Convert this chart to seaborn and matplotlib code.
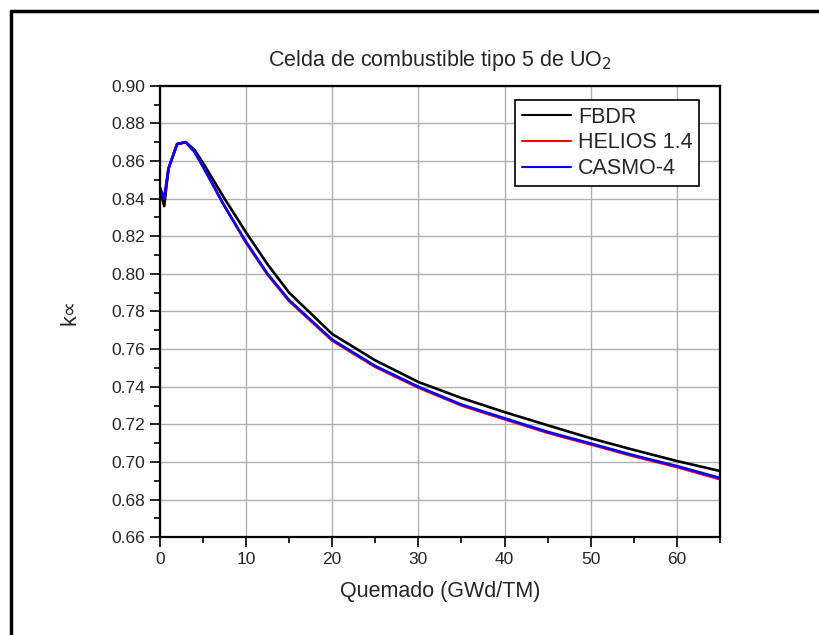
import pandas as pd
import matplotlib
matplotlib.use("Agg")
import matplotlib.pyplot as plt
import seaborn as sns
from matplotlib.ticker import MultipleLocator
from matplotlib.lines import Line2D

# Burnup steps (GWd/TM)
burnup = [0, 0.5, 1, 2, 3, 4, 5, 7.5, 10, 12.5, 15, 20, 25, 30, 35, 40, 45, 50, 55, 60, 65]

# k-infinity values
k_fbdr = [0.845, 0.836, 0.856, 0.869, 0.870, 0.866, 0.859, 0.840, 0.822, 0.805, 0.790,
          0.768, 0.754, 0.7425, 0.734, 0.7265, 0.7195, 0.7126, 0.7064, 0.7005, 0.6952]
k_helios = [0.846, 0.840, 0.856, 0.869, 0.870, 0.865, 0.857, 0.836, 0.8165, 0.7995, 0.7855,
            0.7645, 0.7505, 0.7395, 0.730, 0.7227, 0.7155, 0.7093, 0.7030, 0.6973, 0.6908]
k_casmo = [0.846, 0.840, 0.856, 0.869, 0.870, 0.865, 0.857, 0.836, 0.817, 0.800, 0.786,
           0.765, 0.751, 0.740, 0.7305, 0.7232, 0.716, 0.7098, 0.7035, 0.6978, 0.6915]

codes = ["FBDR", "HELIOS 1.4", "CASMO-4"]
colors = ["black", "red", "blue"]

df = pd.concat([
    pd.DataFrame({"burnup": burnup, "k": vals, "code": name})
    for name, vals in zip(codes, [k_fbdr, k_helios, k_casmo])
])

sns.set_style("white")
plt.rcParams["font.family"] = ["Liberation Sans", "DejaVu Sans"]

fig = plt.figure(figsize=(8.2, 6.35), dpi=100)
ax = fig.add_axes([0.195, 0.154, 0.683, 0.711])

sns.lineplot(data=df, x="burnup", y="k", hue="code", hue_order=codes,
             palette=colors, linewidth=1.9, ax=ax, legend=False, sort=False)

ax.set_xlim(0, 65)
ax.set_ylim(0.66, 0.90)
ax.xaxis.set_major_locator(MultipleLocator(10))
ax.xaxis.set_minor_locator(MultipleLocator(5))
ax.yaxis.set_major_locator(MultipleLocator(0.02))
ax.yaxis.set_minor_locator(MultipleLocator(0.01))
ax.yaxis.set_major_formatter(matplotlib.ticker.FormatStrFormatter("%.2f"))
ax.tick_params(which="major", direction="out", length=7, width=1.2, labelsize=12.5,
               bottom=True, left=True, top=False, right=False, color="black")
ax.tick_params(which="minor", direction="out", length=4, width=1.2,
               bottom=True, left=True, top=False, right=False, color="black")
ax.grid(True, which="major", color="#b0b0b0", linewidth=1)
for sp in ax.spines.values():
    sp.set_color("black")
    sp.set_linewidth(1.6)

ax.set_xlabel("Quemado (GWd/TM)", fontsize=15.5, labelpad=10)
ax.set_ylabel("k\u221d", fontsize=15.5, labelpad=22)
ax.set_title("Celda de combustible tipo 5 de UO$_2$", fontsize=15.5, pad=14)

handles = [Line2D([0], [0], color=c, lw=1.5) for c in colors]
leg = ax.legend(handles, codes, loc="upper right", bbox_to_anchor=(0.963, 0.968),
                fontsize=15.5, frameon=True, fancybox=False, framealpha=1,
                handlelength=2.3, borderpad=0.3, labelspacing=0.22, handletextpad=0.33,
                borderaxespad=0)
leg.get_frame().set_edgecolor("black")
leg.get_frame().set_linewidth(1.2)

# outer frame (top and left edges only, as in the original)
fig.add_artist(Line2D([0.014, 1.0], [0.982, 0.982], color="black", lw=2.5,
                      transform=fig.transFigure))
fig.add_artist(Line2D([0.014, 0.014], [0.0, 0.982], color="black", lw=2.5,
                      transform=fig.transFigure))

fig.savefig("out.png", dpi=100)
